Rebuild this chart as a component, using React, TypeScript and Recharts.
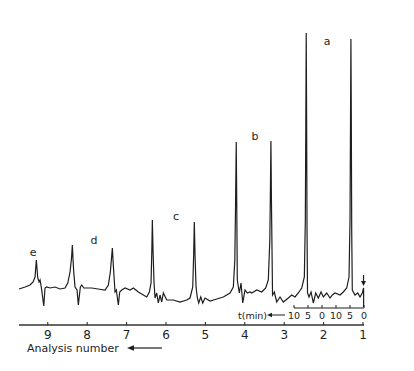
import { LineChart, Line, XAxis, YAxis, ReferenceDot } from "recharts";

const FONT = "'DejaVu Sans', sans-serif";
const INK = "#1e1e1e";

// chromatogram trace: x = analysis number (runs right to left), y = detector signal
const analysisNumber = [
    9.729, 9.576, 9.45, 9.373, 9.323, 9.29, 9.254, 9.221, 9.196, 9.153, 9.102, 9.069, 9.026, 8.942, 8.815,
    8.688, 8.561, 8.493, 8.435, 8.397, 8.376, 8.358, 8.341, 8.308, 8.257, 8.224, 8.173, 8.138, 8.087, 7.884,
    7.724, 7.546, 7.463, 7.412, 7.382, 7.361, 7.344, 7.326, 7.293, 7.26, 7.209, 7.174, 7.123, 7.039, 6.912,
    6.828, 6.702, 6.575, 6.488, 6.422, 6.379, 6.359, 6.346, 6.329, 6.303, 6.278, 6.235, 6.194, 6.151, 6.108,
    6.067, 5.981, 5.813, 5.643, 5.473, 5.39, 5.321, 5.298, 5.281, 5.263, 5.237, 5.204, 5.169, 5.118, 5.067,
    5.009, 4.882, 4.712, 4.545, 4.375, 4.291, 4.253, 4.233, 4.217, 4.205, 4.19, 4.139, 4.096, 4.052, 3.994,
    3.936, 3.867, 3.824, 3.697, 3.57, 3.469, 3.403, 3.365, 3.35, 3.337, 3.324, 3.296, 3.251, 3.19, 3.106,
    3.022, 2.895, 2.809, 2.725, 2.642, 2.555, 2.489, 2.464, 2.451, 2.441, 2.431, 2.421, 2.408, 2.37, 2.319,
    2.261, 2.2, 2.134, 2.066, 2.007, 1.921, 1.837, 1.779, 1.71, 1.584, 1.5, 1.414, 1.355, 1.33, 1.317,
    1.307, 1.297, 1.287, 1.272, 1.203, 1.134, 1.076, 1.018, 0.985, 0.985,
];
const signal = [
    21, 23, 25, 28, 33, 50, 32, 28, 30, 20, 4, 22, 23, 22, 23,
    21, 22, 27, 38, 52, 65, 50, 38, 23, 20, 5, 23, 25, 22, 22,
    21, 20, 25, 38, 52, 62, 50, 38, 18, 20, 5, 18, 20, 22, 20,
    22, 18, 15, 13, 18, 27, 60, 90, 60, 27, 12, 17, 7, 15, 8,
    17, 10, 10, 8, 10, 12, 23, 55, 88, 55, 23, 12, 7, 13, 7,
    12, 9, 11, 13, 17, 23, 50, 110, 168, 110, 30, 17, 27, 7, 20,
    17, 18, 17, 20, 18, 22, 30, 70, 120, 169, 110, 15, 18, 8, 13,
    8, 12, 15, 13, 17, 22, 33, 90, 190, 277, 190, 80, 17, 13, 18,
    7, 17, 12, 18, 13, 17, 12, 15, 17, 15, 18, 22, 33, 90, 190,
    271, 190, 80, 20, 15, 17, 13, 17, 22, 3,
];

const analysisTicks = [1, 2, 3, 4, 5, 6, 7, 8, 9];

const peakNames = ["a", "b", "c", "d", "e"];
const peakLabelX = [1.913, 3.74, 5.745, 7.826, 9.373];
const peakLabelY = [269, 174, 94, 70, 58];

const injectionX = 0.987;
const injectionY = 30;

// small time scale (min) drawn under the last two analyses
const timeTicks = [0, 5, 10, 15, 20, 25];
const timeLabels = ["0", "5", "10", "0", "5", "10"];

const traceData = analysisNumber.map((n, i) => ({ n, s: signal[i] }));
const timeData = timeTicks.map((t) => ({ t }));

function AnalysisTick({ x, y, payload }: any) {
    return (
        <g>
            <line x1={x} y1={y} x2={x} y2={y - 3} stroke={INK} />
            <text x={x} y={y + 13.5} textAnchor="middle" fontSize={12} fill={INK} fontFamily={FONT}>
                {payload.value}
            </text>
        </g>
    );
}

function AnalysisTitle(props: any) {
    const vb = props.viewBox || { x: 11, y: 317 };
    const x = vb.x;
    const y = vb.y;
    return (
        <g>
            <text x={x + 8} y={y + 27} fontSize={11} fill={INK} fontFamily={FONT}>
                Analysis number
            </text>
            <line x1={x + 112} x2={x + 143} y1={y + 23} y2={y + 23} stroke={INK} strokeWidth={1.2} />
            <path d={`M${x + 108},${y + 23} l7,-2.8 l0,5.6 z`} fill={INK} />
        </g>
    );
}

function TimeTick({ x, y, payload }: any) {
    const label = timeLabels[timeTicks.indexOf(payload.value)];
    return (
        <g>
            <line x1={x} y1={y} x2={x} y2={y - 3} stroke={INK} />
            <text x={x} y={y + 11} textAnchor="middle" fontSize={9.5} fill={INK} fontFamily={FONT}>
                {label}
            </text>
        </g>
    );
}

function TimeTitle(props: any) {
    const vb = props.viewBox || { x: 60, y: 10 };
    const x = vb.x;
    const y = vb.y;
    return (
        <g>
            <text x={x - 56} y={y + 11} fontSize={9.5} fill={INK} fontFamily={FONT}>
                t(min)
            </text>
            <line x1={x - 23} x2={x - 9} y1={y + 7} y2={y + 7} stroke={INK} />
            <path d={`M${x - 27},${y + 7} l5,-2.2 l0,4.4 z`} fill={INK} />
        </g>
    );
}

function InjectionArrow({ cx, cy }: any) {
    return (
        <g>
            <line x1={cx} x2={cx} y1={cy - 5} y2={cy + 2} stroke={INK} strokeWidth={1.2} />
            <path d={`M${cx - 2.5},${cy + 1} L${cx + 2.5},${cy + 1} L${cx},${cy + 6} z`} fill={INK} />
        </g>
    );
}

export default function App() {
    return (
        <div style={{ position: "relative", width: 406, height: 363, background: "#fff" }}>
            <LineChart
                width={406}
                height={363}
                data={traceData}
                margin={{ top: 17, right: 50, bottom: 16, left: 11 }}
            >
                <XAxis
                    dataKey="n"
                    type="number"
                    domain={[0.975, 9.73]}
                    reversed
                    ticks={analysisTicks}
                    interval={0}
                    height={30}
                    tickLine={false}
                    tickSize={0}
                    tickMargin={0}
                    tick={<AnalysisTick />}
                    axisLine={{ stroke: "#333", strokeWidth: 1.6 }}
                    label={(p: any) => <AnalysisTitle {...p} />}
                />
                <YAxis hide type="number" domain={[-15, 285]} />
                <Line
                    type="linear"
                    dataKey="s"
                    stroke={INK}
                    strokeWidth={1.2}
                    dot={false}
                    activeDot={false}
                    isAnimationActive={false}
                />
                {peakNames.map((name, i) => (
                    <ReferenceDot
                        key={name}
                        x={peakLabelX[i]}
                        y={peakLabelY[i]}
                        r={0}
                        fill="none"
                        stroke="none"
                        label={{ value: name, position: "center", fontSize: 11, fill: INK, fontFamily: FONT }}
                    />
                ))}
                <ReferenceDot x={injectionX} y={injectionY} shape={<InjectionArrow />} />
            </LineChart>
            <div style={{ position: "absolute", left: 226, top: 290 }}>
                <LineChart width={140} height={30} data={timeData} margin={{ top: 0, right: 10, bottom: 0, left: 60 }}>
                    <XAxis
                        dataKey="t"
                        type="number"
                        domain={[0, 25]}
                        reversed
                        ticks={timeTicks}
                        interval={0}
                        height={20}
                        tickLine={false}
                        tickSize={0}
                        tickMargin={0}
                        tick={<TimeTick />}
                        axisLine={{ stroke: INK }}
                        label={(p: any) => <TimeTitle {...p} />}
                    />
                    <YAxis hide domain={[0, 1]} />
                </LineChart>
            </div>
        </div>
    );
}
